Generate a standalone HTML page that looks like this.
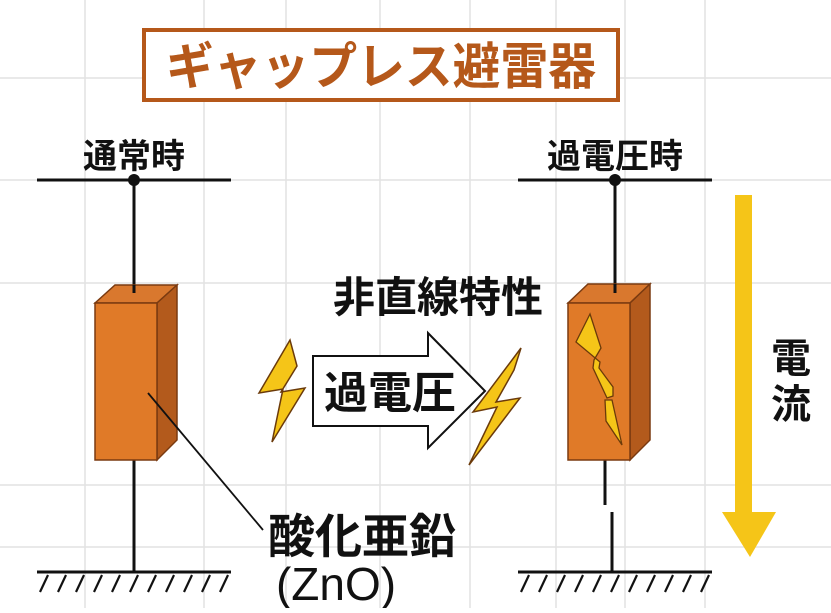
<!DOCTYPE html>
<html><head><meta charset="utf-8"><style>
html,body{margin:0;padding:0;background:#fff;}
body{width:831px;height:608px;overflow:hidden;}
text{font-family:"Liberation Sans","Noto Sans CJK JP",sans-serif;}
</style></head><body>
<svg width="831" height="608" viewBox="0 0 831 608" xmlns="http://www.w3.org/2000/svg">
<g stroke="#e2e2e2" stroke-width="1.5">
<line x1="85" y1="0" x2="85" y2="608"/><line x1="204" y1="0" x2="204" y2="608"/>
<line x1="286" y1="0" x2="286" y2="608"/><line x1="380" y1="0" x2="380" y2="608"/>
<line x1="470" y1="0" x2="470" y2="608"/><line x1="556" y1="0" x2="556" y2="608"/>
<line x1="625" y1="0" x2="625" y2="608"/><line x1="705" y1="0" x2="705" y2="608"/>
<line x1="0" y1="78" x2="831" y2="78"/><line x1="0" y1="180" x2="831" y2="180"/>
<line x1="0" y1="283" x2="831" y2="283"/><line x1="0" y1="485" x2="831" y2="485"/>
<line x1="0" y1="547" x2="831" y2="547"/>
</g>
<rect x="144" y="30" width="474" height="70" fill="#fff" stroke="#b5581a" stroke-width="4"/>
<text x="381" y="84" text-anchor="middle" font-size="50" font-weight="bold" fill="#b5581a" textLength="430" lengthAdjust="spacingAndGlyphs">ギャップレス避雷器</text>
<text x="134" y="168" text-anchor="middle" font-size="34" font-weight="bold" fill="#111">通常時</text>
<text x="615" y="168" text-anchor="middle" font-size="34" font-weight="bold" fill="#111">過電圧時</text>
<g stroke="#111" stroke-width="3" fill="none">
<line x1="37" y1="180" x2="231" y2="180"/><line x1="518" y1="180" x2="712" y2="180"/>
<line x1="134" y1="180" x2="134" y2="300"/><line x1="615" y1="180" x2="615" y2="300"/>
<line x1="134" y1="460" x2="134" y2="572"/>
<line x1="605" y1="460" x2="605" y2="505"/><line x1="612" y1="512" x2="612" y2="572"/>
<line x1="37" y1="572" x2="231" y2="572"/><line x1="518" y1="572" x2="712" y2="572"/>
</g>
<g stroke="#111" stroke-width="2.2">
<line x1="48" y1="575" x2="40" y2="592"/><line x1="66" y1="575" x2="58" y2="592"/><line x1="84" y1="575" x2="76" y2="592"/><line x1="102" y1="575" x2="94" y2="592"/><line x1="120" y1="575" x2="112" y2="592"/><line x1="138" y1="575" x2="130" y2="592"/><line x1="156" y1="575" x2="148" y2="592"/><line x1="174" y1="575" x2="166" y2="592"/><line x1="192" y1="575" x2="184" y2="592"/><line x1="210" y1="575" x2="202" y2="592"/><line x1="228" y1="575" x2="220" y2="592"/>
<line x1="529" y1="575" x2="521" y2="592"/><line x1="547" y1="575" x2="539" y2="592"/><line x1="565" y1="575" x2="557" y2="592"/><line x1="583" y1="575" x2="575" y2="592"/><line x1="601" y1="575" x2="593" y2="592"/><line x1="619" y1="575" x2="611" y2="592"/><line x1="637" y1="575" x2="629" y2="592"/><line x1="655" y1="575" x2="647" y2="592"/><line x1="673" y1="575" x2="665" y2="592"/><line x1="691" y1="575" x2="683" y2="592"/><line x1="709" y1="575" x2="701" y2="592"/>
</g>
<circle cx="134" cy="180" r="6" fill="#111"/><circle cx="615" cy="180" r="6" fill="#111"/>
<g stroke="#7a3a10" stroke-width="1.5">
<polygon points="95,303 115,285 177,285 157,303" fill="#d9782e"/>
<polygon points="157,303 177,285 177,440 157,460" fill="#b35a1c"/>
<rect x="95" y="303" width="62" height="157" fill="#e07a28"/>
</g>
<line x1="134" y1="285" x2="134" y2="293" stroke="#111" stroke-width="3"/>
<g stroke="#7a3a10" stroke-width="1.5">
<polygon points="568,303 588,284 650,284 630,303" fill="#d9782e"/>
<polygon points="630,303 650,284 650,440 630,460" fill="#b35a1c"/>
<rect x="568" y="303" width="62" height="157" fill="#e07a28"/>
</g>
<line x1="615" y1="284" x2="615" y2="293" stroke="#111" stroke-width="3"/>
<polygon points="590,314 576,342 600,362 599,368 613,387 613,396 607,398 593,368 594,360 601,348" fill="#f5c518" stroke="#6b3a0a" stroke-width="1.3"/>
<polygon points="605,400 612,400 622,445 606,421" fill="#f5c518" stroke="#6b3a0a" stroke-width="1.3"/>
<line x1="148" y1="393" x2="263" y2="530" stroke="#111" stroke-width="1.8"/>
<text x="438" y="312" text-anchor="middle" font-size="42" font-weight="bold" fill="#111">非直線特性</text>
<polygon points="313,356 428,356 428,333 485,391 428,448 428,426 313,426" fill="#fff" stroke="#111" stroke-width="2"/>
<text x="390" y="408" text-anchor="middle" font-size="44" font-weight="bold" fill="#111">過電圧</text>
<polygon points="290,340 259,393 283,389 272,442 305,388 281,392 297,366" fill="#f5c518" stroke="#6b3a0a" stroke-width="1.5"/>
<polygon points="521,348 473,412 497,407 469,465 520,398 496,402 514,370" fill="#f5c518" stroke="#6b3a0a" stroke-width="1.5"/>
<rect x="735" y="195" width="17" height="318" fill="#f5c518"/>
<polygon points="722,512 776,512 750,557" fill="#f5c518"/>
<text x="791" y="372" text-anchor="middle" font-size="40" font-weight="bold" fill="#111">電</text>
<text x="791" y="418" text-anchor="middle" font-size="40" font-weight="bold" fill="#111">流</text>
<text x="362" y="553" text-anchor="middle" font-size="47" font-weight="bold" fill="#111">酸化亜鉛</text>
<text x="336" y="600" text-anchor="middle" font-size="46" fill="#111">(ZnO)</text>
</svg>
</body></html>
